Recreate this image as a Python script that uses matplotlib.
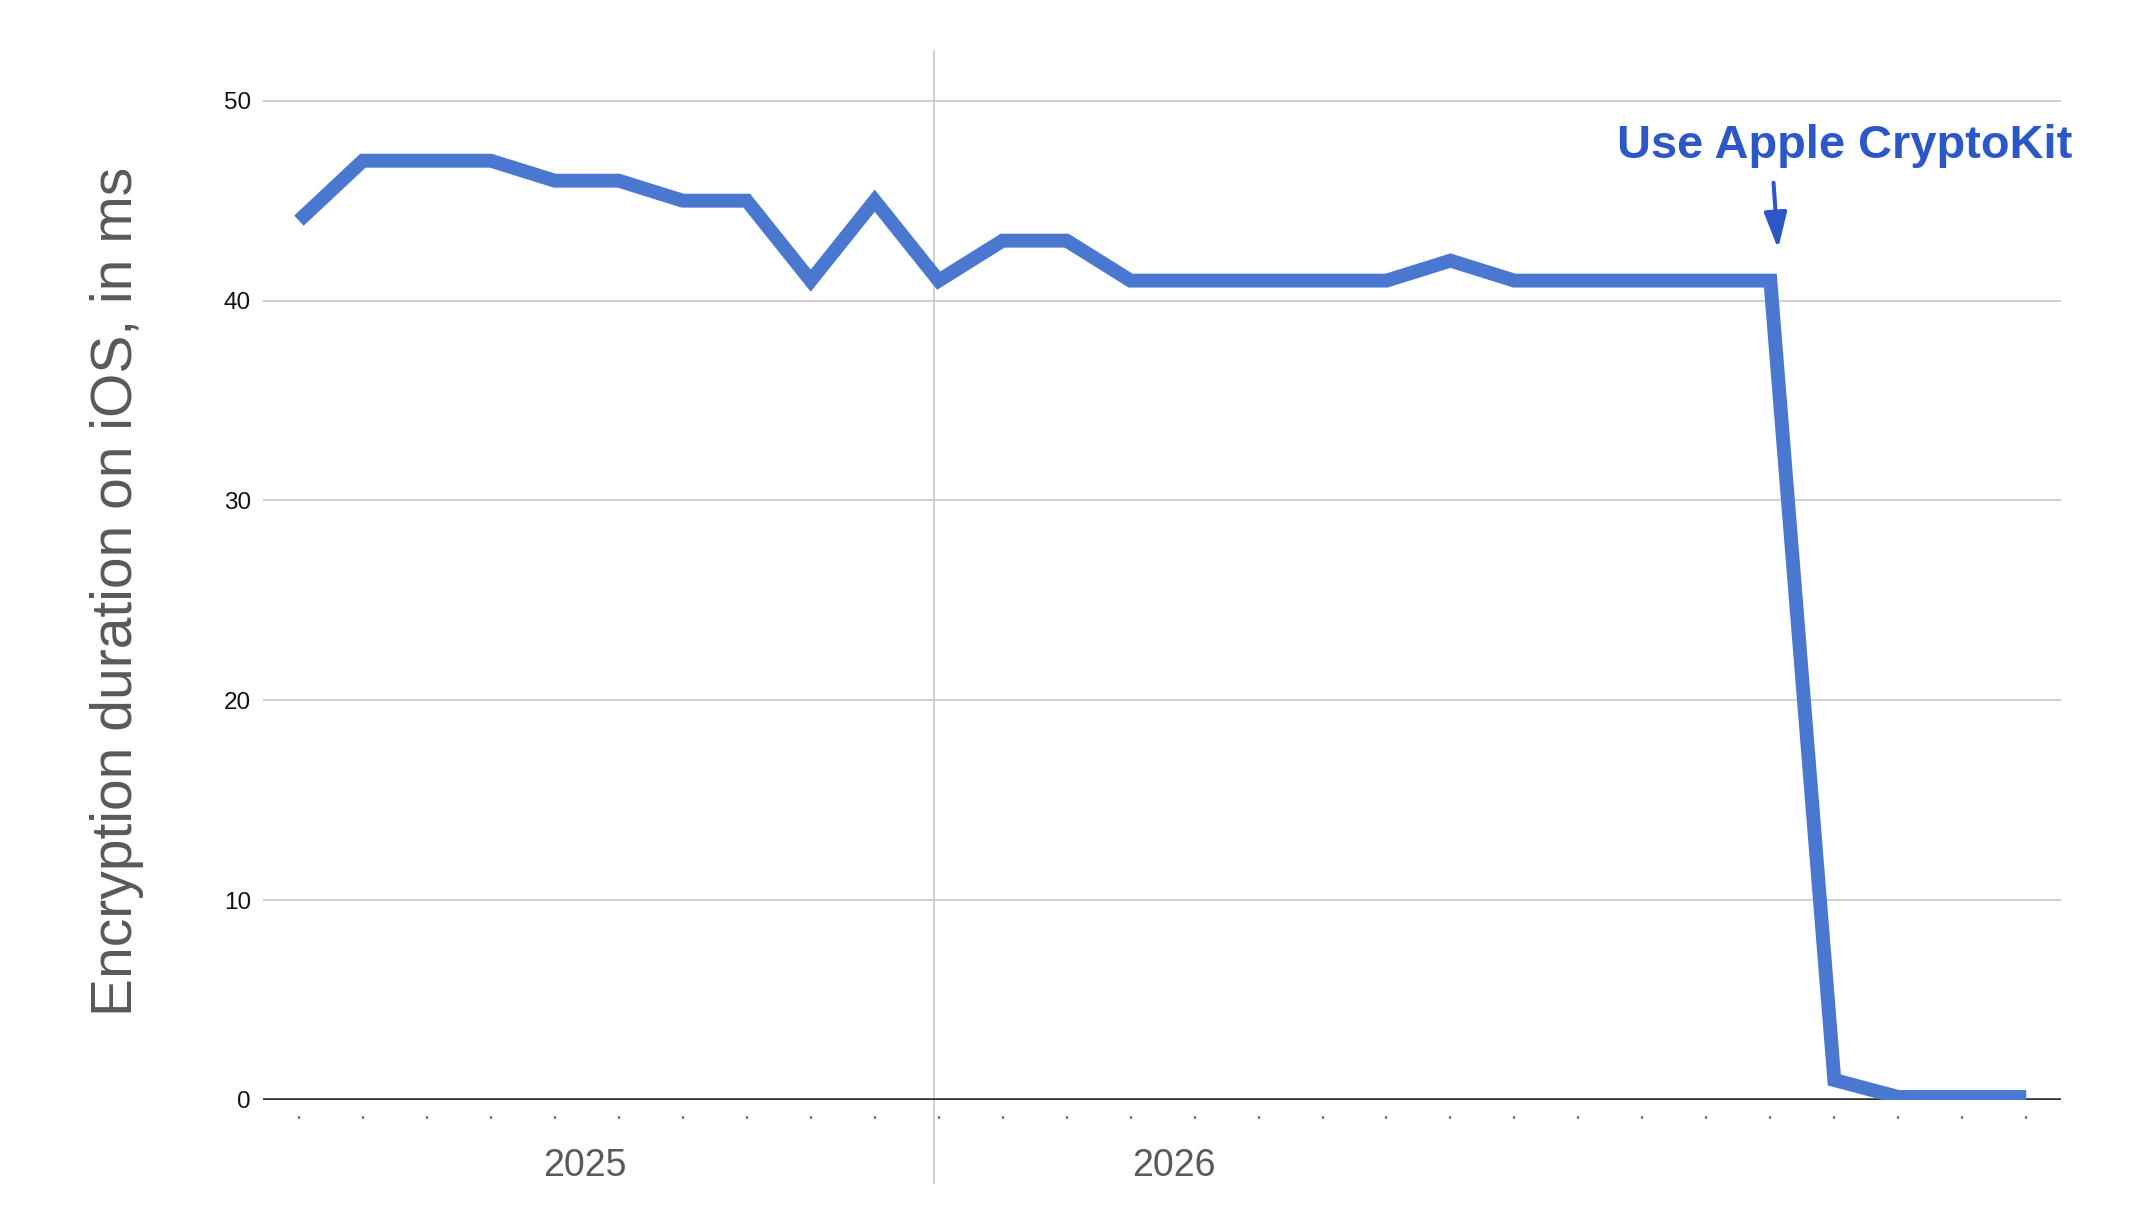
import matplotlib.pyplot as plt

plt.rcParams['font.family'] = ['Liberation Sans', 'DejaVu Sans']

# weekly encryption duration measurements (ms)
durations = [44, 47, 47, 47, 46, 46, 45, 45, 41, 45,
             41, 43, 43, 41, 41, 41, 41, 41, 42, 41,
             41, 41, 41, 41, 1, 0.15, 0.15, 0.15]
weeks = list(range(len(durations)))

year_labels = ['2025', '2026']
year_label_pos = [4.47, 13.68]
year_boundary = 9.93

y_ticks = [0, 10, 20, 30, 40, 50]
annotation_text = 'Use Apple CryptoKit'
annotation_week = 23.12

LINE_BLUE = '#4a78d0'
NOTE_BLUE = '#2b57c9'
GREY_TEXT = '#595959'


def make_plot():
    fig = plt.figure(figsize=(21.48, 12.30), dpi=100)
    ax = fig.add_axes([0.1226, 0.1057, 0.9594 - 0.1226, 0.9587 - 0.1057])

    ax.set_xlim(-0.556, 27.54)
    ax.set_ylim(0, 52.5)

    # grid + axis lines
    ax.set_yticks(y_ticks)
    ax.grid(axis='y', color='#cccccc', lw=1.3)
    ax.set_axisbelow(True)
    ax.axhline(0, color='#333333', lw=2.6, zorder=2)
    ax.axvline(year_boundary, ymin=-0.079, ymax=1, color='#cccccc', lw=1.3,
               clip_on=False, zorder=1)

    ax.plot(weeks, durations, color=LINE_BLUE, lw=10,
            solid_joinstyle='miter', solid_capstyle='butt', zorder=3)

    for s in ['top', 'right', 'left']:
        ax.spines[s].set_visible(False)
    ax.spines['bottom'].set_position(('outward', 11.5))
    ax.spines['bottom'].set_visible(False)

    ax.tick_params(axis='y', length=0, labelsize=17.5, pad=9, labelcolor='#111111')
    ax.set_xticks([])
    ax.set_xticks(weeks, minor=True)
    ax.tick_params(axis='x', which='minor', length=2, width=1.6, color='#777777')

    for lbl, pos in zip(year_labels, year_label_pos):
        ax.text(pos, -3.3, lbl, ha='center', va='center', fontsize=27,
                color=GREY_TEXT, clip_on=False)

    fig.text(0.0545, 0.519, 'Encryption duration on iOS, in ms', rotation=90,
             ha='center', va='center', fontsize=41, color=GREY_TEXT)

    # annotation for the CryptoKit switch
    ax.text(24.16, 47.72, annotation_text, ha='center', va='center',
            fontsize=33.8, fontweight='bold', color=NOTE_BLUE)
    ax.annotate('', xy=(annotation_week, 42.6), xytext=(23.05, 45.9),
                arrowprops=dict(arrowstyle='-|>,head_length=1.1,head_width=0.35',
                                mutation_scale=20, lw=2.9, color=NOTE_BLUE,
                                shrinkA=0, shrinkB=0))

    fig.savefig('out.png', dpi=100)


if __name__ == '__main__':
    make_plot()
